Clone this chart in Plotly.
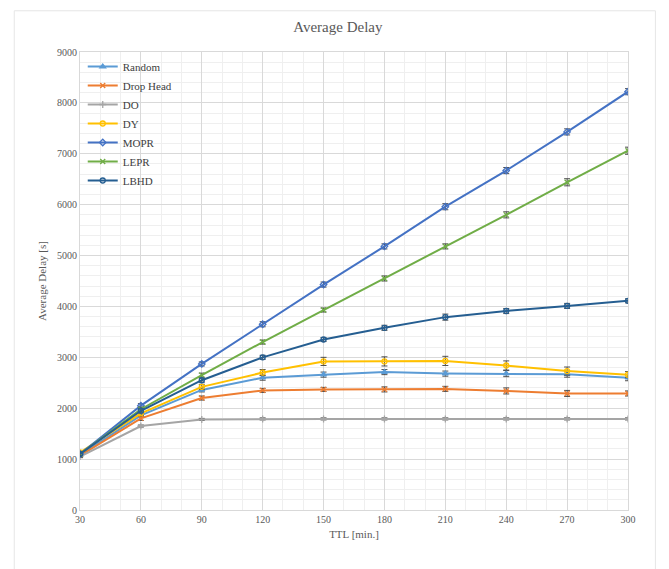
import plotly.graph_objects as go

ttl = [30, 60, 90, 120, 150, 180, 210, 240, 270, 300]

random_delay = [1080, 1860, 2360, 2600, 2660, 2710, 2680, 2680, 2670, 2600]
drop_head = [1070, 1800, 2200, 2350, 2370, 2370, 2380, 2340, 2290, 2290]
do_delay = [1050, 1650, 1780, 1790, 1790, 1790, 1790, 1790, 1790, 1790]
dy_delay = [1130, 1900, 2420, 2700, 2920, 2920, 2930, 2840, 2730, 2660]
mopr = [1100, 2050, 2870, 3650, 4430, 5180, 5960, 6670, 7430, 8220]
lepr = [1100, 1980, 2650, 3300, 3930, 4550, 5180, 5800, 6440, 7060]
lbhd = [1100, 1950, 2550, 3000, 3350, 3580, 3790, 3910, 4010, 4110]

random_err = [30, 40, 40, 50, 50, 50, 50, 60, 60, 60]
drop_head_err = [30, 40, 40, 40, 40, 50, 50, 60, 60, 50]
do_err = [20, 20, 20, 20, 20, 20, 20, 20, 20, 20]
dy_err = [30, 40, 50, 60, 80, 90, 90, 90, 80, 60]
mopr_err = [30, 40, 40, 50, 50, 50, 60, 60, 60, 60]
lepr_err = [30, 40, 40, 40, 40, 50, 50, 60, 70, 70]
lbhd_err = [30, 40, 40, 40, 40, 50, 60, 50, 50, 40]

series = [
    ("Random", random_delay, random_err, "#5B9BD5", "triangle-up"),
    ("Drop Head", drop_head, drop_head_err, "#ED7D31", "x-thin"),
    ("DO", do_delay, do_err, "#A5A5A5", "cross-thin"),
    ("DY", dy_delay, dy_err, "#FFC000", "circle-open"),
    ("MOPR", mopr, mopr_err, "#4472C4", "diamond-open"),
    ("LEPR", lepr, lepr_err, "#70AD47", "x-thin"),
    ("LBHD", lbhd, lbhd_err, "#255E91", "circle-open"),
]

serif = "Liberation Serif"

fig = go.Figure()
for name, vals, errs, color, symbol in series:
    fig.add_trace(go.Scatter(
        x=ttl, y=vals, name=name, mode="lines+markers",
        line=dict(color=color, width=2),
        marker=dict(symbol=symbol, size=5, color=color,
                    line=dict(color=color, width=1.3)),
        error_y=dict(type="data", array=errs, visible=True,
                     color="#505050", thickness=1, width=3),
    ))

fig.update_layout(
    width=669, height=569,
    margin=dict(l=80, r=41, t=52, b=59),
    paper_bgcolor="white", plot_bgcolor="white",
    title=dict(text="Average Delay", x=0.505, xanchor="center", y=0.953,
               yanchor="middle",
               font=dict(family=serif, size=15, color="#595959")),
    font=dict(family=serif, size=10, color="#595959"),
    showlegend=True,
    legend=dict(x=0.005, y=1.0, xanchor="left", yanchor="top",
                bgcolor="rgba(255,255,255,0)", tracegroupgap=0,
                itemwidth=30, font=dict(family=serif, size=11, color="#404040")),
    shapes=[dict(type="rect", xref="paper", yref="paper",
                 x0=-0.12, x1=1.05, y0=-0.2, y1=1.09,
                 line=dict(color="#e6e6e6", width=1), layer="below")],
)

fig.update_xaxes(
    range=[30, 300], tickvals=ttl, ticks="",
    title=dict(text="TTL [min.]", font=dict(family=serif, size=11, color="#595959"), standoff=6),
    tickfont=dict(family=serif, size=10, color="#595959"),
    showgrid=True, gridcolor="#d9d9d9", gridwidth=1,
    minor=dict(dtick=10, showgrid=True, gridcolor="#efefef", gridwidth=1),
    showline=True, linecolor="#d9d9d9", mirror=True, zeroline=False,
)
fig.update_yaxes(
    range=[0, 9000], dtick=1000, ticks="",
    title=dict(text="Average Delay [s]", font=dict(family=serif, size=11, color="#595959"), standoff=8),
    tickfont=dict(family=serif, size=10, color="#595959"),
    showgrid=True, gridcolor="#d9d9d9", gridwidth=1,
    minor=dict(dtick=200, showgrid=True, gridcolor="#efefef", gridwidth=1),
    showline=True, linecolor="#d9d9d9", mirror=True, zeroline=False,
)

fig.write_html("out.html")
